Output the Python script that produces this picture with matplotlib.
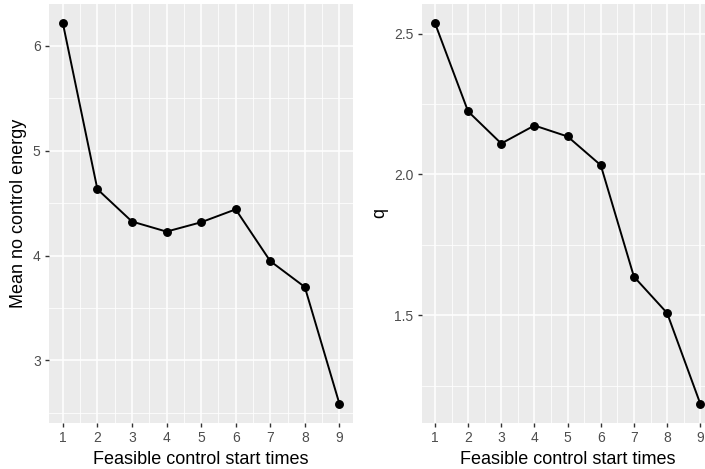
import matplotlib
matplotlib.use("Agg")
import matplotlib.pyplot as plt
import numpy as np

plt.rcParams['font.family'] = ['Liberation Sans', 'DejaVu Sans']

start_times = [1, 2, 3, 4, 5, 6, 7, 8, 9]
mean_energy = [6.216, 4.632, 4.324, 4.228, 4.317, 4.440, 3.947, 3.700, 2.588]
q_values = [2.538, 2.224, 2.110, 2.174, 2.135, 2.033, 1.637, 1.508, 1.186]

BG = "#EBEBEB"


def gg_panel(ax, x, y, ylabel, yticks, yminor):
    ax.set_facecolor(BG)
    for s in ax.spines.values():
        s.set_visible(False)
    ax.plot(x, y, color="black", lw=1.4, marker="o", ms=5.4, zorder=3)
    lo, hi = min(y), max(y)
    pad = 0.05 * (hi - lo)
    ax.set_ylim(lo - pad, hi + pad)
    ax.set_xlim(0.6, 9.4)
    ax.set_xticks(x)
    ax.set_yticks(yticks)
    ax.set_xticks(np.arange(1.5, 9, 1), minor=True)
    ax.set_yticks(yminor, minor=True)
    ax.grid(which="major", color="white", lw=1.1)
    ax.grid(which="minor", color="white", lw=0.55)
    ax.set_axisbelow(True)
    ax.tick_params(which="major", length=3, width=1, color="#333333",
                   labelcolor="#4D4D4D", labelsize=10, pad=3)
    ax.tick_params(which="minor", length=0)
    ax.set_xlabel("Feasible control start times", fontsize=13, labelpad=4)
    ax.set_ylabel(ylabel, fontsize=13, labelpad=4)


fig = plt.figure(figsize=(7.05, 4.69), dpi=100)
ax1 = fig.add_axes([0.0695, 0.0987, 0.4315, 0.8928])
ax2 = fig.add_axes([0.5981, 0.0987, 0.4140, 0.8928])

gg_panel(ax1, start_times, mean_energy, "Mean no control energy",
         [3, 4, 5, 6], [2.5, 3.5, 4.5, 5.5])
ax1.set_yticklabels(["3", "4", "5", "6"])
gg_panel(ax2, start_times, q_values, "q",
         [1.5, 2.0, 2.5], [1.25, 1.75, 2.25])
ax2.set_yticklabels(["1.5", "2.0", "2.5"])

fig.savefig("out.png", dpi=100)
